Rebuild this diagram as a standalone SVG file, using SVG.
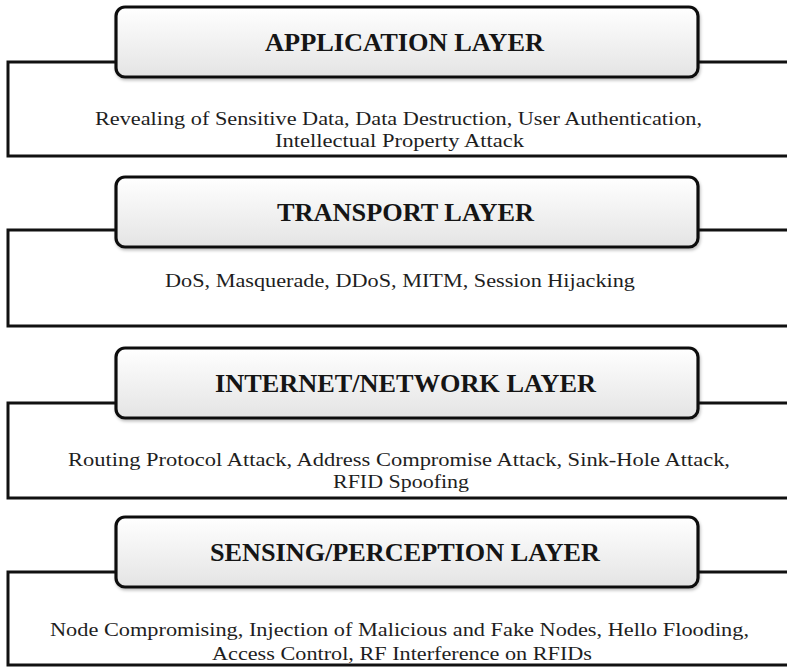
<svg xmlns="http://www.w3.org/2000/svg" width="787" height="668" viewBox="0 0 787 668">
<defs>
<linearGradient id="g" x1="0" y1="0" x2="0" y2="1">
<stop offset="0" stop-color="#ffffff"/>
<stop offset="1" stop-color="#e4e4e4"/>
</linearGradient>
<filter id="sh" x="-5%" y="-10%" width="110%" height="130%">
<feDropShadow dx="1" dy="2" stdDeviation="1.5" flood-color="#000" flood-opacity="0.25"/>
</filter>
</defs>
<style>
.outer{fill:#fff;stroke:#111;stroke-width:3}
.head{fill:url(#g);stroke:#111;stroke-width:3.2;filter:url(#sh)}
.title{font-family:"Liberation Serif","Times New Roman",serif;font-weight:bold;font-size:26px;fill:#151515;text-anchor:middle}
.body{font-family:"Liberation Serif","Times New Roman",serif;font-size:19.5px;fill:#1e1e1e;text-anchor:middle}
</style>
<rect width="787" height="668" fill="#fff"/>
<g id="connectors"/>
<g id="application">
<rect class="outer" x="8" y="62" width="790" height="94"/>
<rect class="head" x="116" y="7" width="582" height="70" rx="9"/>
<text class="title" x="404.5" y="50.5" textLength="279" lengthAdjust="spacingAndGlyphs">APPLICATION LAYER</text>
<text class="body" x="398.5" y="124.5" textLength="607" lengthAdjust="spacingAndGlyphs">Revealing of Sensitive Data, Data Destruction, User Authentication,</text>
<text class="body" x="399.5" y="147" textLength="249" lengthAdjust="spacingAndGlyphs">Intellectual Property Attack</text>
</g>
<g id="transport">
<rect class="outer" x="8" y="230" width="790" height="96"/>
<rect class="head" x="116" y="177" width="582" height="70" rx="9"/>
<text class="title" x="405.5" y="220.5" textLength="257" lengthAdjust="spacingAndGlyphs">TRANSPORT LAYER</text>
<text class="body" x="400" y="286.5" textLength="470" lengthAdjust="spacingAndGlyphs">DoS, Masquerade, DDoS, MITM, Session Hijacking</text>
</g>
<g id="internet">
<rect class="outer" x="8" y="403" width="790" height="95"/>
<rect class="head" x="116" y="348" width="582" height="70" rx="9"/>
<text class="title" x="405.5" y="392" textLength="381" lengthAdjust="spacingAndGlyphs">INTERNET/NETWORK LAYER</text>
<text class="body" x="399" y="465.5" textLength="662" lengthAdjust="spacingAndGlyphs">Routing Protocol Attack, Address Compromise Attack, Sink-Hole Attack,</text>
<text class="body" x="401" y="488" textLength="136" lengthAdjust="spacingAndGlyphs">RFID Spoofing</text>
</g>
<g id="sensing">
<rect class="outer" x="8" y="572" width="790" height="93"/>
<rect class="head" x="116" y="517" width="582" height="70" rx="9"/>
<text class="title" x="405" y="561" textLength="390" lengthAdjust="spacingAndGlyphs">SENSING/PERCEPTION LAYER</text>
<text class="body" x="399.5" y="636" textLength="699" lengthAdjust="spacingAndGlyphs">Node Compromising, Injection of Malicious and Fake Nodes, Hello Flooding,</text>
<text class="body" x="402" y="660" textLength="380" lengthAdjust="spacingAndGlyphs">Access Control, RF Interference on RFIDs</text>
</g>
</svg>
